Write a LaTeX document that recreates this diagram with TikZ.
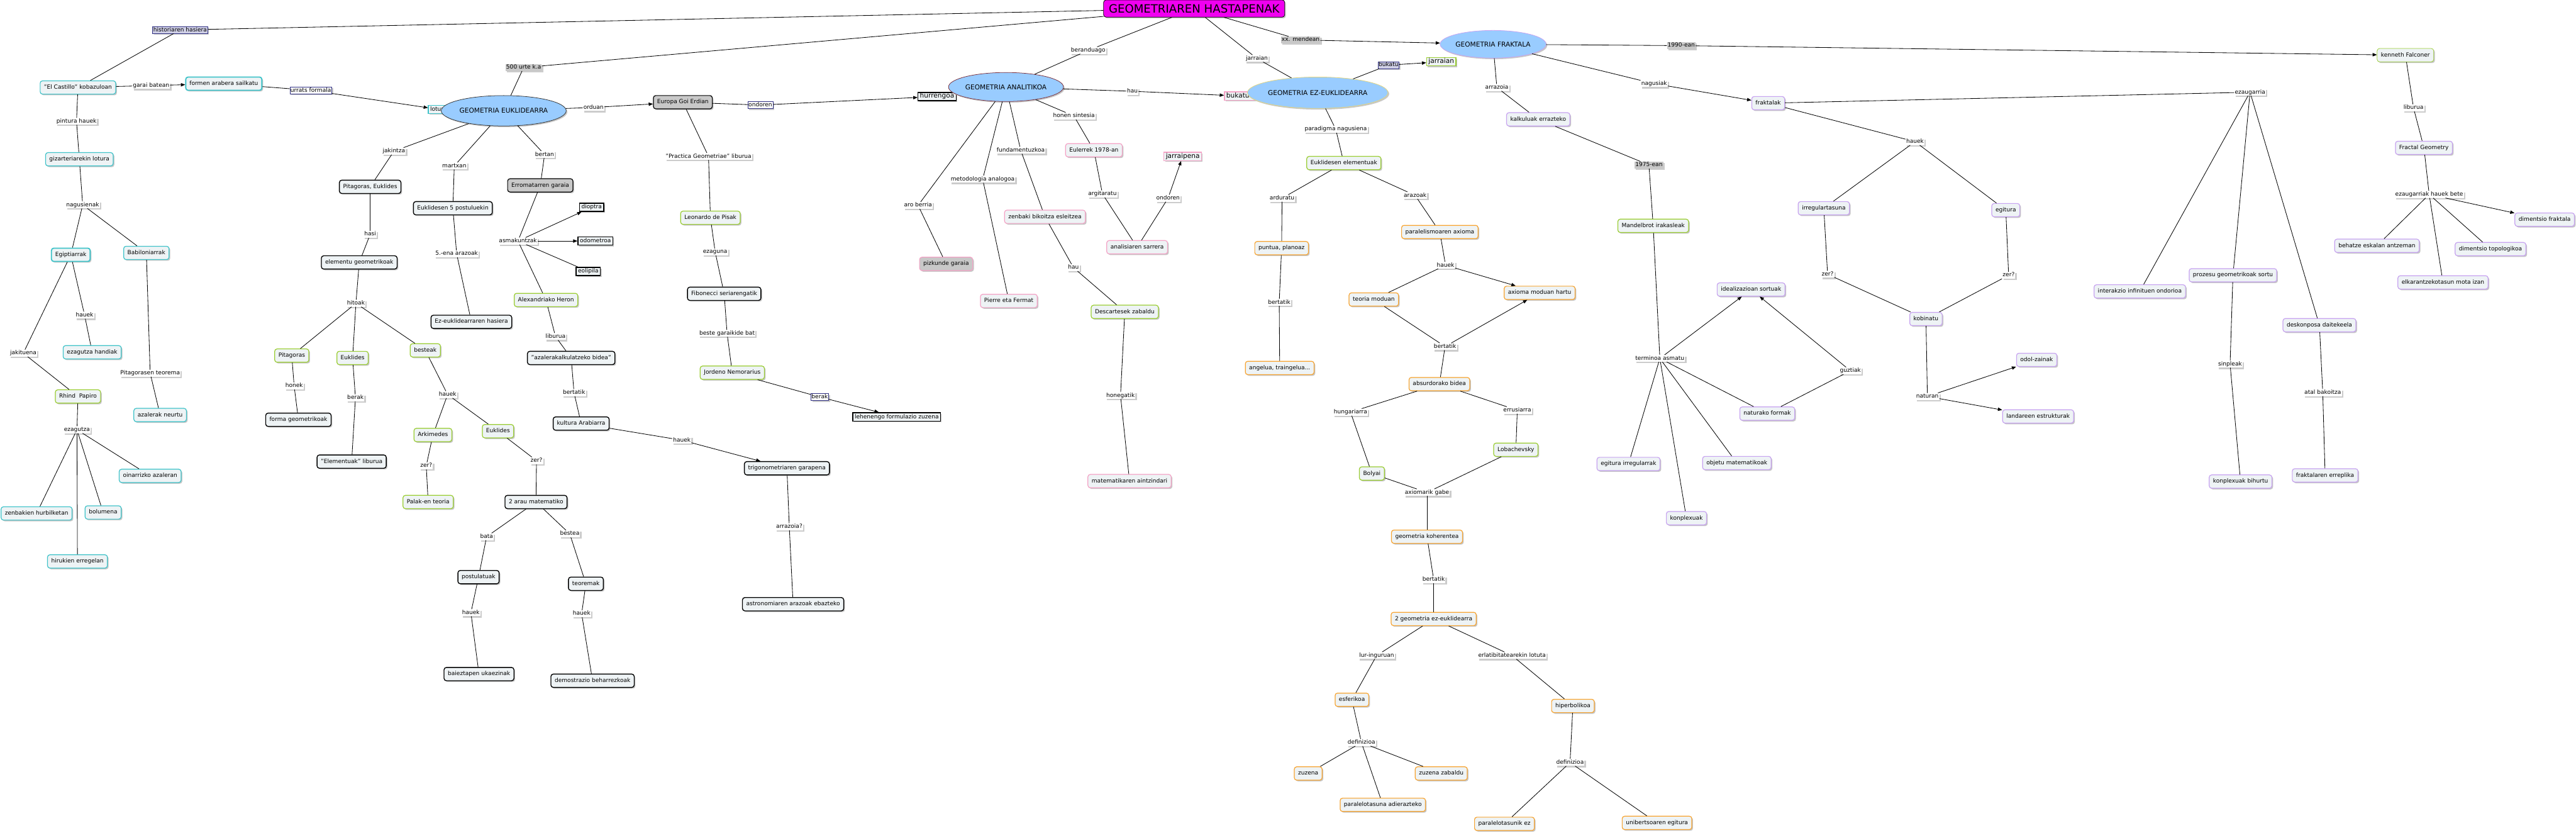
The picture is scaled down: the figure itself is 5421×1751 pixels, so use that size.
\documentclass[tikz,border=0pt]{standalone}
\usepackage{fontspec}
\setmainfont{DejaVu Sans}
\usetikzlibrary{shapes.geometric,arrows.meta,shadows}
\definecolor{cfill}{HTML}{EEF3F5}
\definecolor{colTeal}{HTML}{3FC3C9}
\definecolor{colGreen}{HTML}{9ACD32}
\definecolor{colPink}{HTML}{F4A3C6}
\definecolor{colOrange}{HTML}{F7A431}
\definecolor{colPurple}{HTML}{C7A3F0}
\definecolor{colGrey}{HTML}{C8C8C8}
\definecolor{colEll}{HTML}{99CCFF}
\definecolor{colNavy}{HTML}{2E2E80}
\definecolor{colLav}{HTML}{CFCFE6}
\definecolor{colMag}{HTML}{F000F0}
\definecolor{colMaroon}{HTML}{7A2E3A}
\definecolor{colYel}{HTML}{E6D67A}
\newcommand\fsz{\fontsize{12}{14}\selectfont}
\newcommand\fbig{\fontsize{14}{16}\selectfont}
\tikzset{
  shd/.style={drop shadow={shadow xshift=2.5pt,shadow yshift=-2.5pt,fill=black!22,opacity=1}},
  cb/.style={rectangle,rounded corners=5pt,fill=cfill,line width=1.6pt,inner xsep=8pt,inner ysep=0pt,minimum height=28pt,text height=9pt,text depth=2.5pt,font=\fsz,shd},
  cteal/.style={cb,draw=colTeal},
  ctealB/.style={cb,draw=colTeal,line width=2.4pt},
  cblk/.style={cb,draw=black,line width=1.8pt},
  cgrn/.style={cb,draw=colGreen},
  cpnk/.style={cb,draw=colPink},
  corg/.style={cb,draw=colOrange},
  cprp/.style={cb,draw=colPurple},
  cgry/.style={cb,draw=black,fill=colGrey,line width=1.6pt},
  sqbox/.style={rectangle,fill=cfill,inner xsep=4pt,inner ysep=3pt,text height=9pt,text depth=2.5pt,font=\fsz,shd},
  sqblk/.style={sqbox,draw=black,line width=2pt},
  ell/.style={ellipse,fill=colEll,line width=1pt,inner sep=0pt,font=\fbig,shd},
  lp/.style={rectangle,fill=white,inner xsep=1.5pt,inner ysep=1.5pt,text height=9pt,text depth=2.5pt,font=\fsz,drop shadow={shadow xshift=3pt,shadow yshift=-3pt,fill=black!20,opacity=1}},
  lpb/.style={lp,draw=colNavy,fill=colLav,line width=0.6pt},
  lpw/.style={lp,draw=colNavy,line width=0.6pt},
  lpg/.style={lp,fill=colGrey},
  ln/.style={draw=black,line width=1.1pt},
  arr/.style={ln,-{Triangle[length=9pt,width=7pt]}}
}
\begin{document}
\begin{tikzpicture}[x=1pt,y=-1pt]
\useasboundingbox[fill=white] (0,0) rectangle (5421,1751);

% ---------- title ----------
\node[rectangle,rounded corners=5pt,fill=colMag,draw=black,line width=1pt,minimum width=381pt,minimum height=36pt,inner sep=0pt,font=\fontsize{24}{26}\selectfont,shd] (T) at (2513,18) {GEOMETRIAREN HASTAPENAK};

% ---------- linking phrases from title ----------
\node[lpb] (Lhist) at (379,63) {historiaren hasiera};
\node[lpg] (L500) at (1102,142) {500 urte k.a};
\node[lp] (Lberan) at (2290,106) {beranduago};
\node[lp] (Ljarr) at (2645,123) {jarraian};
\node[lpg] (Lxx) at (2737,84) {xx. mendean};

% ---------- left (teal) group ----------
\node[cteal] (castillo) at (164,184) {"El Castillo" kobazuloan};
\node[lp] (Lgarai) at (318,180) {garai batean};
\node[ctealB] (formen) at (471,176) {formen arabera sailkatu};
\node[lpw] (Lurrats) at (654,190) {urrats formala};
\node[sqbox,draw=colTeal,line width=1.6pt] (lotura) at (923,230) {lotura};
\node[lp] (Lpint) at (161,255) {pintura hauek};
\node[cteal] (gizarte) at (167,335) {gizarteriarekin lotura};
\node[lp] (Lnag) at (174,431) {nagusienak};
\node[ctealB] (egipt) at (149,536) {Egiptiarrak};
\node[cteal] (babil) at (308,532) {Babiloniarrak};
\node[lp] (Lhauek1) at (178,663) {hauek};
\node[lp] (Ljakit) at (49,743) {jakituena};
\node[cteal] (ezhand) at (194,741) {ezagutza handiak};
\node[lp] (Lpitteo) at (316,785) {Pitagorasen teorema};
\node[cgrn] (rhind) at (164,834) {Rhind\ \ Papiro};
\node[cteal] (azal) at (337,873) {azalerak neurtu};
\node[lp] (Lezag) at (162,904) {ezagutza};
\node[cteal] (oinarr) at (316,1001) {oinarrizko azaleran};
\node[cteal] (zenb) at (77,1080) {zenbakien hurbilketan};
\node[cteal] (bolum) at (217,1078) {bolumena};
\node[cteal] (hiruk) at (163,1181) {hirukien erregelan};

% ---------- Euclid group ----------
\node[ell,draw=black!80,minimum width=210pt,minimum height=64pt] (E1) at (1060,233) {GEOMETRIA EUKLIDEARRA};
\node[lp] (Ljakin) at (829,318) {jakintza};
\node[cblk] (pitek) at (779,393) {Pitagoras, Euklides};
\node[lp] (Lhasi) at (779,493) {hasi};
\node[cblk] (elem) at (756,552) {elementu geometrikoak};
\node[lp] (Lhitoak) at (749,638) {hitoak};
\node[cgrn] (pitag) at (614,748) {Pitagoras};
\node[cgrn] (eukl1) at (742,753) {Euklides};
\node[cgrn] (bestk) at (895,737) {besteak};
\node[lp] (Lhonek) at (619,812) {honek};
\node[cblk] (formag) at (628,883) {forma geometrikoak};
\node[lp] (Lberak1) at (748,837) {berak};
\node[cblk] (elemlib) at (740,971) {"Elementuak" liburua};
\node[lp] (Lhauek2) at (942,830) {hauek};
\node[cgrn] (arkim) at (911,915) {Arkimedes};
\node[cgrn] (eukl2) at (1048,907) {Euklides};
\node[lp] (Lzer1) at (897,980) {zer?};
\node[cgrn] (palak) at (901,1056) {Palak-en teoria};
\node[lp] (Lzer2) at (1129,969) {zer?};
\node[cblk] (arau) at (1128,1056) {2 arau matematiko};
\node[lp] (Lbata) at (1024,1129) {bata};
\node[lp] (Lbestea) at (1199,1123) {bestea};
\node[cblk] (postul) at (1007,1214) {postulatuak};
\node[cblk] (teorem) at (1233,1228) {teoremak};
\node[lp] (Lhauek3) at (991,1289) {hauek};
\node[lp] (Lhauek4) at (1224,1291) {hauek};
\node[cblk] (baiezt) at (1008,1418) {baieztapen ukaezinak};
\node[cblk] (demos) at (1247,1432) {demostrazio beharrezkoak};
\node[lp] (Lmartx) at (956,349) {martxan};
\node[cblk] (post5) at (953,438) {Euklidesen 5 postuluekin};
\node[lp] (L5ena) at (961,534) {5.-ena arazoak};
\node[cblk] (ezeuk) at (992,677) {Ez-euklidearraren hasiera};
\node[lp] (Lbertan) at (1146,325) {bertan};
\node[cgry] (errom) at (1137,390) {Erromatarren garaia};
\node[lp] (Lasmak) at (1090,507) {asmakuntzak};
\node[sqblk] (dioptra) at (1245,436) {dioptra};
\node[sqblk] (odom) at (1253,507) {odometroa};
\node[sqblk] (eolip) at (1238,571) {eolipila};
\node[cgrn] (heron) at (1149,631) {Alexandriako Heron};
\node[lp] (Llib1) at (1169,708) {liburua};
\node[cblk] (azalbid) at (1202,753) {"azalerakalkulatzeko bidea"};
\node[lp] (Lbertatik1) at (1208,826) {bertatik};
\node[cblk] (kultura) at (1223,891) {kultura Arabiarra};
\node[lp] (Lhauek5) at (1435,926) {hauek};
\node[cblk] (trigon) at (1656,985) {trigonometriaren garapena};
\node[lp] (Larrq) at (1661,1108) {arrazoia?};
\node[cblk] (astro) at (1669,1271) {astronomiaren arazoak ebazteko};
\node[lp] (Lorduan) at (1249,226) {orduan};
\node[cgry] (europa) at (1437,215) {Europa Goi Erdian};
\node[lpw] (Londoren1) at (1600,221) {ondoren};
\node[sqblk,font=\fbig] (hurreng) at (1972,203) {hurrengoa};
\node[lp] (Lpract) at (1491,329) {"Practica Geometriae" liburua};
\node[cgrn] (leon) at (1495,458) {Leonardo de Pisak};
\node[lp] (Lezagun) at (1505,530) {ezaguna};
\node[cblk] (fibon) at (1524,618) {Fibonecci seriarengatik};
\node[lp] (Lbeste) at (1530,701) {beste garaikide bat};
\node[cgrn] (jordeno) at (1541,784) {Jordeno Nemorarius};
\node[lpw] (Lberak2) at (1725,835) {berak};
\node[sqblk] (lehen) at (1887,877) {lehenengo formulazio zuzena};

% ---------- Analytic group ----------
\node[ell,draw=colMaroon,minimum width=195pt,minimum height=61pt] (E2) at (2117,183) {GEOMETRIA ANALITIKOA};
\node[lp] (Lhau1) at (2383,192) {hau};
\node[sqbox,draw=colPink,line width=1.6pt,font=\fbig] (bukatuta) at (2612,202) {bukatuta};
\node[lp] (Lhonen) at (2260,244) {honen sintesia};
\node[cpnk] (euler) at (2302,316) {Eulerrek 1978-an};
\node[lp] (Largit) at (2320,408) {argitaratu};
\node[cpnk] (analis) at (2393,520) {analisiaren sarrera};
\node[lp] (Londoren2) at (2458,417) {ondoren};
\node[sqbox,draw=colPink,line width=1.6pt,font=\fbig] (jarraip) at (2489,329) {jarraipena};
\node[lp] (Lfund) at (2148,316) {fundamentuzkoa};
\node[cpnk] (zenbbik) at (2199,456) {zenbaki bikoitza esleitzea};
\node[lp] (Lhau2) at (2259,563) {hau};
\node[cgrn] (descart) at (2367,656) {Descartesek zabaldu};
\node[lp] (Lhoneg) at (2358,832) {honegatik};
\node[cpnk] (matem) at (2377,1012) {matematikaren aintzindari};
\node[lp] (Lmetod) at (2068,377) {metodologia analogoa};
\node[cpnk] (pierre) at (2123,633) {Pierre eta Fermat};
\node[lp] (Laro) at (1932,432) {aro berria};
\node[cb,draw=colPink,fill=colGrey] (pizk) at (1991,555) {pizkunde garaia};

% ---------- Non-Euclidean group ----------
\node[ell,draw=colYel,minimum width=235pt,minimum height=66pt] (E3) at (2773,195) {GEOMETRIA EZ-EUKLIDEARRA};
\node[lpb] (Lbukatu) at (2922,137) {bukatu};
\node[sqbox,draw=colGreen,line width=1.6pt,font=\fbig] (jarrsq) at (3033,130) {jarraian};
\node[lp] (Lparad) at (2811,272) {paradigma nagusiena};
\node[cgrn] (euklel) at (2828,343) {Euklidesen elementuak};
\node[lp] (Lardur) at (2698,417) {arduratu};
\node[corg] (puntua) at (2697,522) {puntua, planoaz};
\node[lp] (Lbertatik2) at (2692,636) {bertatik};
\node[corg] (angelua) at (2693,774) {angelua, traingelua...};
\node[lp] (Larazoak) at (2978,411) {arazoak};
\node[corg] (paralax) at (3030,488) {paralelismoaren axioma};
\node[lp] (Lhauek6) at (3042,558) {hauek};
\node[corg] (teoria) at (2891,630) {teoria moduan};
\node[corg] (axhartu) at (3240,616) {axioma moduan hartu};
\node[lp] (Lbertatik3) at (3041,729) {bertatik};
\node[corg] (absurd) at (3029,808) {absurdorako bidea};
\node[lp] (Lhung) at (2842,867) {hungariarra};
\node[lp] (Lerru) at (3193,863) {errusiarra};
\node[cgrn] (bolyai) at (2887,996) {Bolyai};
\node[cgrn] (lobach) at (3190,946) {Lobachevsky};
\node[lp] (Laxgabe) at (3003,1036) {axiomarik gabe};
\node[corg] (koher) at (3003,1129) {geometria koherentea};
\node[lp] (Lbertatik4) at (3017,1219) {bertatik};
\node[corg] (geom2) at (3017,1302) {2 geometria ez-euklidearra};
\node[lp] (Llur) at (2897,1379) {lur-inguruan};
\node[lp] (Lerlat) at (3182,1379) {erlatibitatearekin lotuta};
\node[corg] (esfer) at (2845,1472) {esferikoa};
\node[corg] (hiperb) at (3310,1485) {hiperbolikoa};
\node[lp] (Ldef1) at (2865,1562) {definizioa};
\node[lp] (Ldef2) at (3304,1604) {definizioa};
\node[corg] (zuzena) at (2753,1627) {zuzena};
\node[corg] (zuzzab) at (3033,1627) {zuzena zabaldu};
\node[corg] (paralad) at (2910,1693) {paralelotasuna adierazteko};
\node[corg] (paralez) at (3166,1733) {paralelotasunik ez};
\node[corg] (unib) at (3487,1731) {unibertsoaren egitura};

% ---------- Fractal group ----------
\node[ell,draw=colPurple,minimum width=183pt,minimum height=58pt] (E4) at (3142,93) {GEOMETRIA FRAKTALA};
\node[lp] (Larrazoia) at (3150,184) {arrazoia};
\node[cprp] (kalkul) at (3237,251) {kalkuluak errazteko};
\node[lpg] (L1975) at (3470,347) {1975-ean};
\node[cgrn] (mandel) at (3479,475) {Mandelbrot irakasleak};
\node[lp] (Ltermi) at (3493,754) {terminoa asmatu};
\node[cprp] (ideal) at (3685,609) {idealizazioan sortuak};
\node[cprp] (egirr) at (3427,976) {egitura irregularrak};
\node[cprp] (konpl) at (3549,1090) {konplexuak};
\node[cprp] (objetu) at (3655,974) {objetu matematikoak};
\node[cprp] (natforma) at (3719,870) {naturako formak};
\node[lp] (Lguzt) at (3894,780) {guztiak};
\node[lp] (Lnagusiak) at (3481,176) {nagusiak};
\node[cprp] (frakt) at (3721,217) {fraktalak};
\node[lp] (Lhauek7) at (4030,298) {hauek};
\node[cprp] (irreg) at (3838,438) {irregulartasuna};
\node[cprp] (egit) at (4221,442) {egitura};
\node[lp] (Lzer3) at (3846,577) {zer?};
\node[lp] (Lzer4) at (4227,579) {zer?};
\node[cprp] (kobin) at (4053,671) {kobinatu};
\node[lp] (Lnatur) at (4056,834) {naturan};
\node[cprp] (odol) at (4286,757) {odol-zainak};
\node[cprp] (landar) at (4289,876) {landareen estrukturak};
\node[lp] (Lezaug) at (4735,194) {ezaugarria};
\node[cprp] (interak) at (4503,613) {interakzio infinituen ondorioa};
\node[cprp] (prozesu) at (4699,579) {prozesu geometrikoak sortu};
\node[cprp] (deskon) at (4881,684) {deskonposa daitekeela};
\node[lp] (Lsinp) at (4693,766) {sinpleak};
\node[cprp] (konplbih) at (4715,1013) {konplexuak bihurtu};
\node[lp] (Latal) at (4888,826) {atal bakoitza};
\node[cprp] (frerepl) at (4893,1000) {fraktalaren erreplika};
\node[lpg] (L1990) at (3538,96) {1990-ean};
\node[cb,draw=colGreen,line width=1pt] (kenneth) at (5062,116) {kenneth Falconer};
\node[lp] (Llib2) at (5079,227) {liburua};
\node[cprp] (fractgeo) at (5101,311) {Fractal Geometry};
\node[lp] (Lezbete) at (5112,409) {ezaugarriak hauek bete};
\node[cprp] (dimfr) at (5355,462) {dimentsio fraktala};
\node[cprp] (behatze) at (5002,517) {behatze eskalan antzeman};
\node[cprp] (dimtop) at (5241,524) {dimentsio topologikoa};
\node[cprp] (elkar) at (5141,594) {elkarantzekotasun mota izan};

% ---------- connectors ----------
\draw[ln] (T) -- (Lhist); \draw[ln] (Lhist) -- (castillo);
\draw[ln] (T) -- (L500); \draw[ln] (L500) -- (E1);
\draw[ln] (T) -- (Lberan); \draw[ln] (Lberan) -- (E2);
\draw[ln] (T) -- (Ljarr); \draw[ln] (Ljarr) -- (E3);
\draw[ln] (T) -- (Lxx); \draw[arr] (Lxx) -- (E4);

\draw[ln] (castillo) -- (Lgarai); \draw[arr] (Lgarai) -- (formen);
\draw[ln] (formen) -- (Lurrats); \draw[arr] (Lurrats) -- (lotura);
\draw[ln] (castillo) -- (Lpint); \draw[ln] (Lpint) -- (gizarte);
\draw[ln] (gizarte) -- (Lnag); \draw[ln] (Lnag) -- (egipt); \draw[ln] (Lnag) -- (babil);
\draw[ln] (egipt) -- (Lhauek1); \draw[ln] (Lhauek1) -- (ezhand);
\draw[ln] (egipt) -- (Ljakit); \draw[ln] (Ljakit) -- (rhind);
\draw[ln] (babil) -- (Lpitteo); \draw[ln] (Lpitteo) -- (azal);
\draw[ln] (rhind) -- (Lezag);
\draw[ln] (Lezag) -- (zenb); \draw[ln] (Lezag) -- (hiruk);
\draw[ln] (Lezag) -- (bolum); \draw[ln] (Lezag) -- (oinarr);

\draw[ln] (E1) -- (Ljakin); \draw[ln] (Ljakin) -- (pitek);
\draw[ln] (pitek) -- (Lhasi); \draw[ln] (Lhasi) -- (elem);
\draw[ln] (elem) -- (Lhitoak);
\draw[ln] (Lhitoak) -- (pitag); \draw[ln] (Lhitoak) -- (eukl1); \draw[ln] (Lhitoak) -- (bestk);
\draw[ln] (pitag) -- (Lhonek); \draw[ln] (Lhonek) -- (formag);
\draw[ln] (eukl1) -- (Lberak1); \draw[ln] (Lberak1) -- (elemlib);
\draw[ln] (bestk) -- (Lhauek2); \draw[ln] (Lhauek2) -- (arkim); \draw[ln] (Lhauek2) -- (eukl2);
\draw[ln] (arkim) -- (Lzer1); \draw[ln] (Lzer1) -- (palak);
\draw[ln] (eukl2) -- (Lzer2); \draw[ln] (Lzer2) -- (arau);
\draw[ln] (arau) -- (Lbata); \draw[ln] (Lbata) -- (postul);
\draw[ln] (postul) -- (Lhauek3); \draw[ln] (Lhauek3) -- (baiezt);
\draw[ln] (arau) -- (Lbestea); \draw[ln] (Lbestea) -- (teorem);
\draw[ln] (teorem) -- (Lhauek4); \draw[ln] (Lhauek4) -- (demos);
\draw[ln] (E1) -- (Lmartx); \draw[ln] (Lmartx) -- (post5);
\draw[ln] (post5) -- (L5ena); \draw[ln] (L5ena) -- (ezeuk);
\draw[ln] (E1) -- (Lbertan); \draw[ln] (Lbertan) -- (errom);
\draw[ln] (errom) -- (Lasmak);
\draw[arr] (Lasmak) -- (dioptra); \draw[arr] (Lasmak) -- (odom);
\draw[ln] (Lasmak) -- (eolip); \draw[ln] (Lasmak) -- (heron);
\draw[ln] (heron) -- (Llib1); \draw[ln] (Llib1) -- (azalbid);
\draw[ln] (azalbid) -- (Lbertatik1); \draw[ln] (Lbertatik1) -- (kultura);
\draw[ln] (kultura) -- (Lhauek5); \draw[arr] (Lhauek5) -- (trigon);
\draw[ln] (trigon) -- (Larrq); \draw[ln] (Larrq) -- (astro);
\draw[ln] (E1) -- (Lorduan); \draw[arr] (Lorduan) -- (europa);
\draw[ln] (europa) -- (Londoren1); \draw[arr] (Londoren1) -- (hurreng);
\draw[ln] (europa) -- (Lpract); \draw[ln] (Lpract) -- (leon);
\draw[ln] (leon) -- (Lezagun); \draw[ln] (Lezagun) -- (fibon);
\draw[ln] (fibon) -- (Lbeste); \draw[ln] (Lbeste) -- (jordeno);
\draw[ln] (jordeno) -- (Lberak2); \draw[arr] (Lberak2) -- (lehen);

\draw[ln] (E2) -- (Lhau1); \draw[arr] (Lhau1) -- (bukatuta);
\draw[ln] (E2) -- (Lhonen); \draw[ln] (Lhonen) -- (euler);
\draw[ln] (euler) -- (Largit); \draw[ln] (Largit) -- (analis);
\draw[ln] (analis) -- (Londoren2); \draw[arr] (Londoren2) -- (jarraip);
\draw[ln] (E2) -- (Lfund); \draw[ln] (Lfund) -- (zenbbik);
\draw[ln] (zenbbik) -- (Lhau2); \draw[ln] (Lhau2) -- (descart);
\draw[ln] (descart) -- (Lhoneg); \draw[ln] (Lhoneg) -- (matem);
\draw[ln] (E2) -- (Lmetod); \draw[ln] (Lmetod) -- (pierre);
\draw[ln] (E2) -- (Laro); \draw[ln] (Laro) -- (pizk);

\draw[ln] (E3) -- (Lbukatu); \draw[arr] (Lbukatu) -- (jarrsq);
\draw[ln] (E3) -- (Lparad); \draw[ln] (Lparad) -- (euklel);
\draw[ln] (euklel) -- (Lardur); \draw[ln] (Lardur) -- (puntua);
\draw[ln] (puntua) -- (Lbertatik2); \draw[ln] (Lbertatik2) -- (angelua);
\draw[ln] (euklel) -- (Larazoak); \draw[ln] (Larazoak) -- (paralax);
\draw[ln] (paralax) -- (Lhauek6); \draw[ln] (Lhauek6) -- (teoria); \draw[arr] (Lhauek6) -- (axhartu);
\draw[ln] (teoria) -- (Lbertatik3); \draw[arr] (Lbertatik3) -- (axhartu); \draw[ln] (Lbertatik3) -- (absurd);
\draw[ln] (absurd) -- (Lhung); \draw[ln] (Lhung) -- (bolyai);
\draw[ln] (absurd) -- (Lerru); \draw[ln] (Lerru) -- (lobach);
\draw[ln] (bolyai) -- (Laxgabe); \draw[ln] (lobach) -- (Laxgabe);
\draw[ln] (Laxgabe) -- (koher); \draw[ln] (koher) -- (Lbertatik4); \draw[ln] (Lbertatik4) -- (geom2);
\draw[ln] (geom2) -- (Llur); \draw[ln] (Llur) -- (esfer);
\draw[ln] (esfer) -- (Ldef1);
\draw[ln] (Ldef1) -- (zuzena); \draw[ln] (Ldef1) -- (zuzzab); \draw[ln] (Ldef1) -- (paralad);
\draw[ln] (geom2) -- (Lerlat); \draw[ln] (Lerlat) -- (hiperb);
\draw[ln] (hiperb) -- (Ldef2); \draw[ln] (Ldef2) -- (paralez); \draw[ln] (Ldef2) -- (unib);

\draw[ln] (E4) -- (Larrazoia); \draw[ln] (Larrazoia) -- (kalkul);
\draw[ln] (kalkul) -- (L1975); \draw[ln] (L1975) -- (mandel);
\draw[ln] (mandel) -- (Ltermi);
\draw[arr] (Ltermi) -- (ideal); \draw[ln] (Ltermi) -- (egirr); \draw[ln] (Ltermi) -- (konpl);
\draw[ln] (Ltermi) -- (objetu); \draw[ln] (Ltermi) -- (natforma);
\draw[ln] (natforma) -- (Lguzt); \draw[arr] (Lguzt) -- (ideal);
\draw[ln] (E4) -- (Lnagusiak); \draw[arr] (Lnagusiak) -- (frakt);
\draw[ln] (frakt) -- (Lhauek7); \draw[ln] (Lhauek7) -- (irreg); \draw[ln] (Lhauek7) -- (egit);
\draw[ln] (irreg) -- (Lzer3); \draw[ln] (Lzer3) -- (kobin);
\draw[ln] (egit) -- (Lzer4); \draw[ln] (Lzer4) -- (kobin);
\draw[ln] (kobin) -- (Lnatur); \draw[arr] (Lnatur) -- (odol); \draw[arr] (Lnatur) -- (landar);
\draw[ln] (frakt) -- (Lezaug);
\draw[ln] (Lezaug) -- (interak); \draw[ln] (Lezaug) -- (prozesu); \draw[ln] (Lezaug) -- (deskon);
\draw[ln] (prozesu) -- (Lsinp); \draw[ln] (Lsinp) -- (konplbih);
\draw[ln] (deskon) -- (Latal); \draw[ln] (Latal) -- (frerepl);
\draw[ln] (E4) -- (L1990); \draw[arr] (L1990) -- (kenneth);
\draw[ln] (kenneth) -- (Llib2); \draw[ln] (Llib2) -- (fractgeo);
\draw[ln] (fractgeo) -- (Lezbete);
\draw[arr] (Lezbete) -- (dimfr); \draw[ln] (Lezbete) -- (behatze);
\draw[ln] (Lezbete) -- (dimtop); \draw[ln] (Lezbete) -- (elkar);
\end{tikzpicture}
\end{document}
